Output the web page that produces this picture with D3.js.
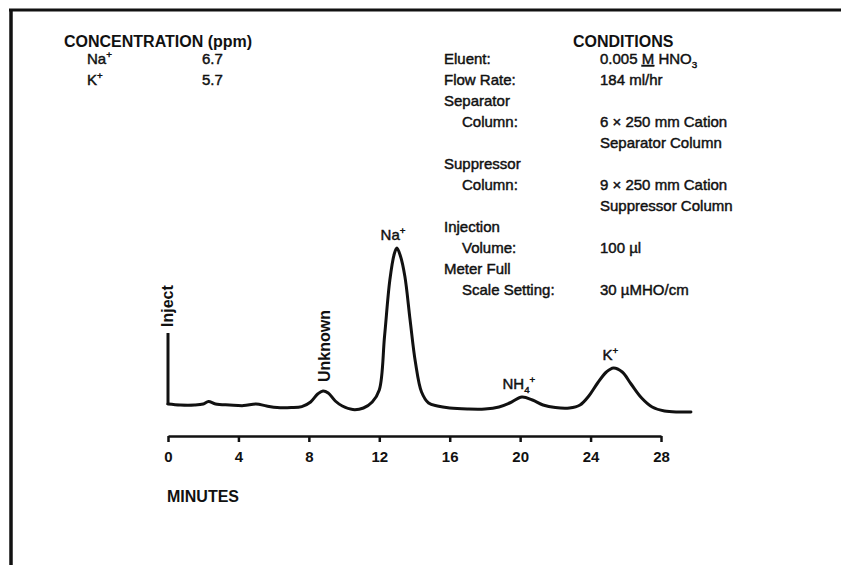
<!DOCTYPE html>
<html>
<head>
<meta charset="utf-8">
<script src="https://cdn.jsdelivr.net/npm/d3@7"></script>
<style>
  body { margin: 0; background: #fff; }
  svg text { font-family: "Liberation Sans", Arial, sans-serif; fill: #111; }
</style>
</head>
<body>
<svg id="chart" width="841" height="565"></svg>
<script>
// Cation chromatogram. Trace:
// time in minutes, response in relative units (% of a nominal scale).
var traceTime = [0, 0.7, 1.5, 2.0, 2.3, 2.7, 3.5, 4.3, 5.0, 5.6, 6.2, 7.0, 7.6,
    8.1, 8.5, 8.8, 9.1, 9.5, 9.9, 10.5, 11.1, 11.6, 12.0, 12.3, 12.6, 12.85,
    13.0, 13.2, 13.45, 13.75, 14.05, 14.4, 14.8, 15.3, 16.0, 17.0, 18.0, 18.8,
    19.4, 20.1, 20.7, 21.3, 22.0, 22.8, 23.4, 23.9, 24.4, 24.9, 25.3, 25.8,
    26.3, 26.9, 27.5, 28.2, 29.0, 29.7];
var traceSignal = [4, 3.5, 3.5, 4, 5.2, 4, 3.5, 3.2, 4, 3, 2.2, 2.2, 2.7,
    5, 9, 10.5, 9.5, 5.5, 3, 1.2, 2, 5, 11, 38, 66, 79,
    82, 78, 68, 46, 25, 10, 4.5, 3, 2, 1.5, 1.5, 2.5,
    4.5, 7.5, 6, 3.5, 2.2, 2, 3.5, 8, 14.5, 20, 22, 20,
    14, 7, 2.5, 0.5, 0, 0];

// injection mark (pen kick at t = 0)
var injectTime = 0;
var injectBase = 3.5;
var injectTop = 39.5;

// peak labels: "^" = superscript next char, "_" = subscript next char
var peakNames = ['Na^+', 'NH_4^+', 'K^+'];
var peakTimes = [12.95, 20.1, 25.3];
var peakHeights = [82, 7.5, 22];
var unknownTime = 8.8, unknownHeight = 10.5;

var tickValues = [0, 4, 8, 12, 16, 20, 24, 28];

var concIons = ['Na^+', 'K^+'];
var concValues = ['6.7', '5.7'];

// "  " prefix = indented label, {..} = underlined
var condLabels = ['Eluent:', 'Flow Rate:', 'Separator', '  Column:', '', 'Suppressor',
    '  Column:', '', 'Injection', '  Volume:', 'Meter Full', '  Scale Setting:'];
var condValues = ['0.005 {M} HNO_3', '184 ml/hr', '', '6 \u00d7 250 mm Cation', 'Separator Column', '',
    '9 \u00d7 250 mm Cation', 'Suppressor Column', '', '100 \u00b5l', '', '30 \u00b5MHO/cm'];

var svg = d3.select('#chart');

var x = d3.scaleLinear().domain([0, 28]).range([168, 661]);
var y = d3.scaleLinear().domain([0, 100]).range([412, 212]);

// writes a string with ^x / _x / {u} markup into a text element
function rich(textSel, str) {
    var re = /\^(.)|_(.)|\{([^}]*)\}|([^\^_{]+)/g, m, shift = 0;
    while ((m = re.exec(str)) !== null) {
        var ts = textSel.append('tspan');
        if (m[1] || m[2]) {
            var want = m[1] ? -6 : 4;
            ts.attr('dy', want - shift).style('font-size', '65%').text(m[1] || m[2]);
            shift = want;
        } else {
            if (shift) { ts.attr('dy', -shift); shift = 0; }
            ts.text(m[3] || m[4]);
            if (m[3]) ts.style('text-decoration', 'underline');
        }
    }
}

function bodyText(sel) {
    return sel.style('font-size', '15px').attr('stroke', '#111').attr('stroke-width', 0.45);
}

var rowStep = 21;

// frame (top and left edge of the page)
svg.append('line').attr('x1', 9).attr('x2', 841).attr('y1', 10).attr('y2', 10)
    .attr('stroke', '#111').attr('stroke-width', 3);
svg.append('line').attr('x1', 11).attr('x2', 11).attr('y1', 9).attr('y2', 565)
    .attr('stroke', '#111').attr('stroke-width', 3.5);

// concentration block
svg.append('text').attr('x', 64).attr('y', 47)
    .style('font-size', '16px').style('font-weight', 'bold').text('CONCENTRATION (ppm)');
concIons.forEach(function (ion, i) {
    rich(bodyText(svg.append('text').attr('x', 87).attr('y', 64 + i * rowStep)), ion);
    bodyText(svg.append('text').attr('x', 202).attr('y', 64 + i * rowStep)).text(concValues[i]);
});

// conditions block
svg.append('text').attr('x', 573).attr('y', 47)
    .style('font-size', '16px').style('font-weight', 'bold').text('CONDITIONS');
condLabels.forEach(function (lab, i) {
    var yy = 64 + i * rowStep;
    if (lab) {
        var indent = lab.indexOf('  ') === 0;
        bodyText(svg.append('text').attr('x', indent ? 462 : 444).attr('y', yy)).text(lab.trim());
    }
    if (condValues[i]) {
        rich(bodyText(svg.append('text').attr('x', 600).attr('y', yy)), condValues[i]);
    }
});

// trace
var line = d3.line()
    .x(function (d) { return x(d[0]); })
    .y(function (d) { return y(d[1]); })
    .curve(d3.curveCatmullRom.alpha(0.5));

svg.append('path')
    .datum(d3.zip(traceTime, traceSignal))
    .attr('d', line)
    .attr('fill', 'none')
    .attr('stroke', '#111')
    .attr('stroke-width', 3)
    .attr('stroke-linejoin', 'round')
    .attr('stroke-linecap', 'round');

svg.append('line')
    .attr('x1', x(injectTime)).attr('x2', x(injectTime))
    .attr('y1', y(injectBase)).attr('y2', y(injectTop))
    .attr('stroke', '#111').attr('stroke-width', 3);

// rotated labels
svg.append('text')
    .attr('transform', 'translate(' + (x(injectTime) + 5) + ',' + (y(injectTop) - 6) + ') rotate(-90)')
    .style('font-size', '16px').style('font-weight', 'bold').text('Inject');
svg.append('text')
    .attr('transform', 'translate(' + (x(unknownTime) + 7) + ',' + (y(unknownHeight) - 9) + ') rotate(-90)')
    .style('font-size', '16px').style('font-weight', 'bold').text('Unknown');

// peak labels
peakNames.forEach(function (name, i) {
    var t = bodyText(svg.append('text')
        .attr('x', x(peakTimes[i]) - 3)
        .attr('y', y(peakHeights[i]) - 8)
        .attr('text-anchor', 'middle'));
    rich(t, name);
});

// time axis
var axis = svg.append('g')
    .attr('transform', 'translate(0,436)')
    .call(d3.axisBottom(x).tickValues(tickValues).tickSize(6).tickSizeOuter(0).tickPadding(9));
axis.select('.domain').attr('stroke', '#111').attr('stroke-width', 2.5);
axis.selectAll('.tick line').attr('stroke', '#111').attr('stroke-width', 2.5);
axis.selectAll('.tick text')
    .attr('fill', '#111')
    .style('font-family', '"Liberation Sans", Arial, sans-serif')
    .style('font-size', '15px').style('font-weight', 'bold');

svg.append('text').attr('x', 167).attr('y', 502)
    .style('font-size', '16px').style('font-weight', 'bold').text('MINUTES');
</script>
</body>
</html>
